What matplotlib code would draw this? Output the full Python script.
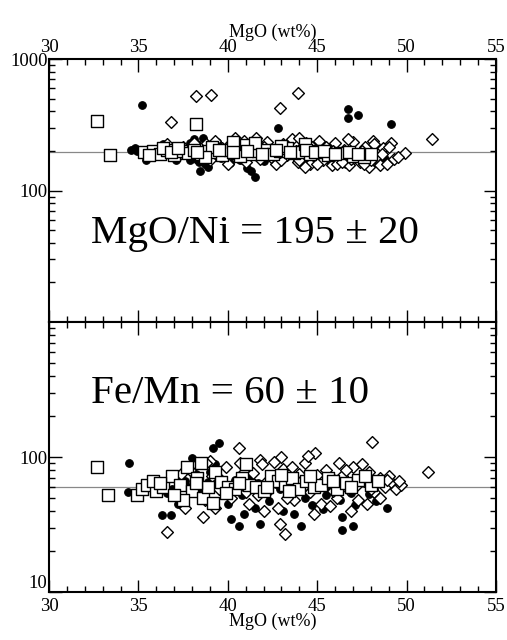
import matplotlib
matplotlib.use("Agg")
import matplotlib.pyplot as plt
from matplotlib.ticker import MultipleLocator, LogLocator, NullFormatter, FixedLocator, FixedFormatter

plt.rcParams['font.family'] = ['Liberation Serif', 'DejaVu Serif']

# ---------------- data: MgO/Ni panel ----------------
ni_circ_x = [35.2, 46.7, 46.7, 47.3, 42.8, 49.1, 41.1, 41.3, 41.5, 38.45, 35.4,
             34.6, 34.9, 35.8, 36.1, 36.5, 36.9, 37.3, 37.6, 37.9, 38.1, 38.3, 38.6,
             38.2, 38.4, 38.7, 38.9, 38.5, 39.2, 39.6, 39.9, 40.3, 40.7, 41.0, 41.6,
             42.0, 42.3, 42.9, 43.4, 43.8, 44.3, 44.8, 45.2, 45.7, 46.2, 46.6, 47.1,
             47.5, 48.0, 48.4, 48.8, 36.4, 37.1, 39.4, 40.1, 34.8, 37.9,
             37.5, 38.0, 39.0, 40.5, 42.6, 44.6, 46.0, 47.8, 48.6]
ni_circ_y = [447, 417, 355, 373, 299, 320, 148, 140, 127, 140, 172,
             205, 198, 195, 208, 190, 200, 212, 185, 230, 245, 225, 250,
             175, 165, 160, 152, 185, 200, 178, 210, 190, 172, 205, 188,
             168, 196, 175, 210, 185, 168, 195, 175, 165, 190, 160, 180,
             170, 195, 162, 175, 225, 170, 235, 162, 212, 171,
             200, 190, 180, 200, 185, 180, 175, 185, 190]

ni_dia_x = [38.2, 39.05, 42.9, 43.9, 51.4, 49.9, 36.8, 36.6,
            37.0, 37.5, 37.8, 38.8, 39.3, 39.7, 40.2, 40.6, 40.9, 41.4, 41.8, 42.2,
            42.5, 42.7, 43.1, 43.3, 43.6, 43.9, 44.1, 44.4, 44.6, 44.9, 45.1, 45.3,
            45.5, 45.8, 46.0, 46.3, 46.5, 46.8, 47.0, 47.2, 47.4, 47.7, 47.9, 48.1,
            48.3, 48.5, 48.7, 48.9, 49.1, 49.3, 39.0, 40.0, 41.0, 42.0, 43.0, 44.0,
            45.0, 46.1, 47.6, 48.2, 49.0, 41.6, 43.8, 46.7, 45.6, 44.3, 42.4, 40.4,
            38.4, 36.9,
            37.3, 38.1, 39.8, 40.8, 41.2, 42.9, 44.7, 45.9, 46.9, 47.5, 48.6, 49.5,
            48.0, 46.4, 44.0]
ni_dia_y = [524, 530, 424, 551, 246, 193, 332, 225,
            205, 215, 195, 225, 240, 210, 230, 185, 240, 220, 175, 235,
            205, 160, 225, 185, 245, 165, 210, 230, 158, 190, 240, 170,
            215, 155, 230, 180, 205, 155, 235, 190, 165, 215, 150, 240,
            180, 155, 210, 160, 230, 175, 170, 160, 165, 215, 170, 250,
            160, 160, 160, 225, 215, 250, 200, 245, 195, 150, 180, 250,
            215, 185,
            190, 230, 195, 205, 200, 195, 215, 200, 175, 200, 190, 180,
            170, 165, 170]

ni_sq_x = [32.7, 33.4, 38.2,
           35.3, 35.8, 36.2, 36.6, 37.0, 37.4, 37.8, 38.1, 38.5, 38.9, 39.3, 39.7,
           40.1, 40.5, 40.9, 41.3, 41.7, 42.1, 42.5, 42.9, 43.3, 43.7, 44.1, 44.6,
           45.1, 45.6, 46.3, 47.0, 47.6, 36.4, 39.1, 41.0, 43.0, 38.7, 40.7, 40.3,
           41.5, 44.3,
           35.6, 36.8, 37.2, 38.3, 39.5, 40.3, 41.1, 41.9, 42.7, 43.5, 44.4, 44.9,
           45.4, 46.0, 46.8, 47.3, 48.0]
ni_sq_y = [340, 185, 320,
           195, 200, 190, 205, 185, 198, 192, 205, 188, 200, 195, 185,
           202, 192, 210, 188, 198, 205, 190, 200, 212, 192, 197, 188,
           200, 185, 192, 183, 180, 210, 215, 220, 218, 180, 182, 232,
           228, 225,
           185, 195, 210, 195, 205, 195, 200, 190, 205, 195, 205, 195,
           198, 188, 195, 190, 188]

# ---------------- data: Fe/Mn panel ----------------
mn_circ_x = [34.5, 34.4, 39.2, 39.5, 48.9, 36.3, 36.8, 40.2, 46.4, 40.6, 41.8, 44.1,
             46.4, 47.0,
             35.3, 35.7, 36.2, 36.6, 37.0, 37.4, 37.8, 38.2, 38.5, 38.9, 39.3, 39.7,
             40.0, 40.4, 40.8, 41.2, 41.5, 41.9, 42.3, 42.7, 43.1, 43.5, 43.9, 44.3,
             44.7, 45.1, 45.5, 45.9, 46.3, 46.7, 47.1, 47.5, 47.9, 48.3, 48.7, 38.0,
             40.9, 43.7, 45.3,
             36.9, 37.6, 38.4, 39.0, 40.6, 41.7, 42.9, 44.0, 45.6, 46.9, 48.2, 37.2]
mn_circ_y = [90, 55, 117, 127, 42, 37, 37, 35, 36, 31, 32, 31,
             29, 31,
             58, 62, 66, 54, 70, 50, 60, 75, 48, 65, 88, 55,
             45, 68, 52, 72, 42, 58, 47, 63, 40, 55, 67, 50,
             44, 60, 52, 70, 48, 58, 44, 65, 53, 47, 62, 98,
             38, 38, 41,
             58, 66, 55, 78, 60, 64, 58, 62, 58, 54, 58, 45]

mn_dia_x = [40.6, 48.05, 51.2, 36.6, 43.2, 42.9, 38.6, 37.6, 39.0, 41.8, 44.9,
            37.2, 37.5, 37.9, 38.3, 38.7, 39.1, 39.5, 39.9, 40.2, 40.5, 40.9, 41.2,
            41.5, 41.9, 42.2, 42.5, 42.8, 43.1, 43.4, 43.7, 44.0, 44.3, 44.6, 44.9,
            45.2, 45.5, 45.8, 46.1, 46.4, 46.7, 47.0, 47.3, 47.6, 47.9, 48.2, 48.5,
            48.8, 49.1, 49.4, 49.7, 43.0, 44.5, 42.0, 45.7, 47.8, 39.3, 40.7, 46.9,
            48.5, 41.0, 43.9, 46.2, 49.0, 38.0, 42.6, 44.8, 47.5,
            37.4, 38.8, 39.6, 41.4, 42.1, 43.6, 44.2, 45.0, 45.9, 46.6, 47.2, 48.0,
            48.9, 49.6, 40.1, 41.7, 43.3]
mn_dia_y = [117, 129, 77, 28, 27, 32, 36, 42, 94, 95, 107,
            68, 55, 80, 62, 48, 72, 58, 85, 50, 66, 78, 45,
            62, 88, 55, 70, 42, 82, 60, 48, 75, 90, 55, 68,
            45, 80, 62, 50, 72, 58, 85, 48, 66, 78, 55, 70,
            60, 65, 58, 62, 100, 102, 40, 43, 45, 42, 90, 40,
            50, 55, 65, 90, 72, 58, 92, 38, 88,
            75, 90, 68, 76, 64, 84, 60, 74, 56, 80, 62, 58,
            68, 66, 60, 52, 50]

mn_sq_x = [32.7, 33.3,
           34.9, 35.2, 35.5, 36.0, 36.4, 36.9, 37.3, 37.7, 38.0, 38.3, 38.6, 38.9,
           39.3, 39.6, 40.0, 40.4, 40.8, 41.2, 41.6, 42.0, 42.4, 42.8, 43.2, 43.6,
           44.0, 44.4, 44.8, 45.2, 45.6, 46.1, 46.6, 47.3, 48.0, 37.5, 39.2, 38.5,
           41.0, 37.0, 43.0,
           35.8, 38.2, 39.9, 40.6, 42.2, 43.4, 44.6, 45.9, 46.9, 47.7, 48.4, 36.2]
mn_sq_y = [84, 52,
           52, 58, 62, 56, 60, 72, 62, 84, 56, 70, 50, 60,
           78, 65, 60, 58, 70, 62, 60, 56, 72, 66, 62, 70,
           58, 66, 60, 62, 70, 58, 64, 68, 62, 48, 46, 90,
           88, 52, 74,
           66, 64, 54, 64, 60, 56, 72, 66, 60, 72, 66, 64]

ni_ref = 195
mn_ref = 60
ni_label = "MgO/Ni = 195 ± 20"
mn_label = "Fe/Mn = 60 ± 10"
x_ticks = [30, 35, 40, 45, 50, 55]
x_label = "MgO (wt%)"

# ---------------- figure ----------------
W, H = 507, 640
fig = plt.figure(figsize=(W / 100, H / 100), dpi=100)
left = 49 / W
width = (496 - 49) / W
ax1 = fig.add_axes([left, 1 - 322 / H, width, (322 - 59) / H])
ax2 = fig.add_axes([left, 1 - 592 / H, width, (592 - 322) / H])

def style(ax, yt, ytl):
    ax.set_xlim(30, 55)
    ax.set_yscale('log')
    ax.set_ylim(10, 1000)
    ax.xaxis.set_major_locator(FixedLocator(x_ticks))
    ax.xaxis.set_minor_locator(MultipleLocator(1))
    ax.yaxis.set_major_locator(FixedLocator(yt))
    ax.yaxis.set_major_formatter(FixedFormatter(ytl))
    ax.yaxis.set_minor_locator(LogLocator(base=10, subs=range(2, 10)))
    ax.yaxis.set_minor_formatter(NullFormatter())
    ax.tick_params(which='both', direction='in', top=True, bottom=True,
                   left=True, right=True, labelsize=13.5, width=1.0, color='black')
    ax.tick_params(which='major', length=9)
    ax.tick_params(which='minor', length=4.5)
    for s in ax.spines.values():
        s.set_linewidth(1.5)

def draw(ax, cx, cy, dx, dy, sx, sy, ref):
    ax.axhline(ref, color='#888888', lw=0.9, zorder=1)
    ax.scatter(cx, cy, s=30, marker='o', facecolor='black', edgecolor='black',
               linewidths=0.8, zorder=3)
    ax.scatter(dx, dy, s=36, marker='D', facecolor='white', edgecolor='black',
               linewidths=1.0, zorder=4)
    ax.scatter(sx, sy, s=75, marker='s', facecolor='white', edgecolor='black',
               linewidths=1.0, zorder=5)

draw(ax1, ni_circ_x, ni_circ_y, ni_dia_x, ni_dia_y, ni_sq_x, ni_sq_y, ni_ref)
draw(ax2, mn_circ_x, mn_circ_y, mn_dia_x, mn_dia_y, mn_sq_x, mn_sq_y, mn_ref)

style(ax1, [100, 1000], ['100', '1000'])
style(ax2, [10, 100], ['10', '100'])

ax1.tick_params(axis='x', labeltop=True, labelbottom=False, pad=2)
ax1.xaxis.set_label_position('top')
ax1.set_xlabel(x_label, fontsize=13, labelpad=2)
ax2.tick_params(axis='x', labeltop=False, labelbottom=True, pad=4)
ax2.set_xlabel(x_label, fontsize=13, labelpad=-1)
ax1.tick_params(axis='y', pad=1)
ax2.tick_params(axis='y', pad=1)
for lab in ax2.get_yticklabels():
    if lab.get_text() == '10':
        lab.set_verticalalignment('bottom')

ax1.text(0.461, 0.335, ni_label, transform=ax1.transAxes, fontsize=29.5,
         ha='center', va='center')
ax2.text(0.405, 0.737, mn_label, transform=ax2.transAxes, fontsize=29.5,
         ha='center', va='center')

fig.savefig("out.png", dpi=100)
